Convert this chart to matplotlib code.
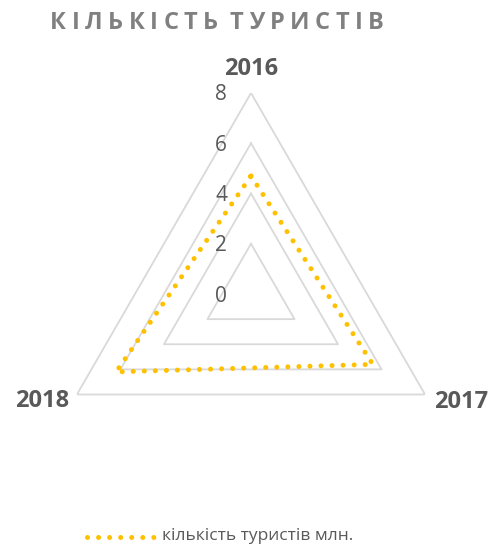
import numpy as np
import matplotlib
matplotlib.use("Agg")
from matplotlib import pyplot as plt
from matplotlib.transforms import IdentityTransform

# tourists per year, millions
years = ['2016', '2017', '2018']
tourists = [4.7, 5.6, 6.2]
rings = [2, 4, 6, 8]
tick_labels = ['0', '2', '4', '6', '8']

title = 'КІЛЬКІСТЬ ТУРИСТІВ'
series_name = 'кількість туристів млн.'

plt.rcParams['font.family'] = ['Open Sans', 'DejaVu Sans']

gold = '#FFC000'
grid_col = '#D9D9D9'
text_col = '#595959'
dotted = (0, (0.01, 2.2))

W, H, DPI = 493, 545, 100
fig = plt.figure(figsize=(W / DPI, H / DPI), dpi=DPI)

# polar axes: centre at (251, 294) px from top, radius 8 -> 201 px
cx, cy, rad = 251, 294, 201
ax = fig.add_axes([(cx - rad) / W, (H - cy - rad) / H, 2 * rad / W, 2 * rad / H],
                  projection='polar')
ax.set_theta_offset(np.pi / 2)
ax.set_theta_direction(-1)
ax.set_ylim(0, 8)
ax.grid(False)
ax.set_xticks([])
ax.set_yticks([])
ax.spines['polar'].set_visible(False)
ax.patch.set_visible(False)

angles = np.deg2rad([0, 120, 240])
closed = np.append(angles, angles[0])

# triangular gridlines
for r in rings:
    ax.plot(closed, [r] * 4, color=grid_col, lw=1.3, zorder=1)

# value labels along the 2016 spoke
for lab in tick_labels:
    ax.annotate(lab, (0, float(lab)), xytext=(-30, -2), textcoords='offset pixels',
                ha='center', va='center', fontsize=15, color=text_col)

# category labels
offsets = [((0, 24), 'center'), ((9, -8), 'left'), ((-8, -6), 'right')]
for a, yr, (off, ha) in zip(angles, years, offsets):
    ax.annotate(yr, (a, 8), xytext=off, textcoords='offset pixels', ha=ha,
                va='center', fontsize=17, fontweight='bold', color=text_col)

# data series
vals = tourists + tourists[:1]
ax.plot(closed, vals, color=gold, lw=3.6, linestyle=dotted,
        dash_capstyle='round', zorder=3)

# title with wide letter spacing, stretched over x = 50..395 px
renderer = fig.canvas.get_renderer()
chars = []
for ch in title:
    if ch == ' ':
        chars.append(None)
        continue
    t = fig.text(0, H - 23, ch, transform=IdentityTransform(), fontsize=17,
                 fontweight='bold', color='#808080', va='center', ha='left')
    chars.append(t)
widths = [t.get_window_extent(renderer).width if t else 0 for t in chars]
gap = (345 - sum(widths)) / (len(chars) + 1)
x = 50
for t, w in zip(chars, widths):
    if t is not None:
        t.set_x(x)
    x += w + gap

# legend
lx = np.array([87, 156]) / W
ly = np.array([H - 537, H - 537]) / H
fig.add_artist(plt.Line2D(lx, ly, color=gold, lw=3.6, linestyle=dotted,
                          dash_capstyle='round'))
fig.text(162 / W, (H - 536) / H, series_name, fontsize=12.5, color=text_col,
         va='center', ha='left')

fig.savefig('out.png', dpi=DPI)
